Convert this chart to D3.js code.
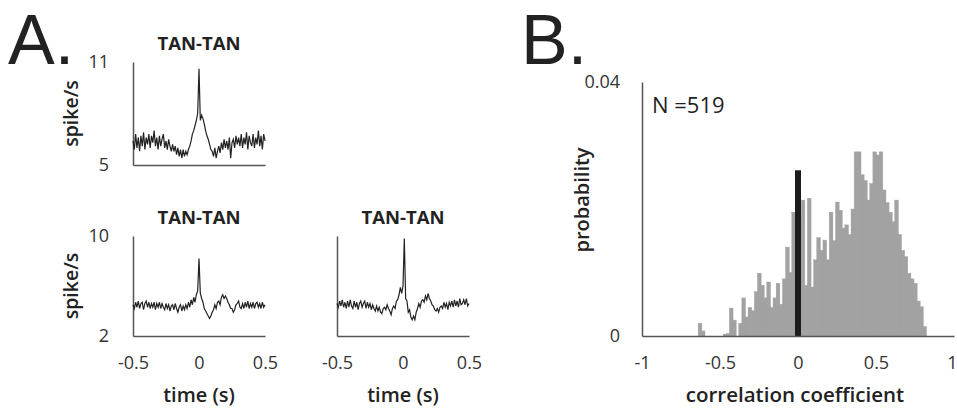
<!DOCTYPE html>
<html>
<head>
<meta charset="utf-8">
<script src="https://cdn.jsdelivr.net/npm/d3@7"></script>
<style>
  body { margin: 0; background: #fff; }
  svg { display: block; font-family: 'Open Sans', 'Noto Sans', sans-serif; }
  .axis path { stroke: #555; stroke-width: 1.5; }
  .axis text { fill: #333; font-size: 18px; font-family: 'Open Sans', 'Noto Sans', sans-serif; }
</style>
</head>
<body>
<script>
const width = 957
const height = 408

// time bins of the cross-correlograms, -0.5 .. 0.5 s in 10 ms steps
const times = d3.range(101).map(function (i) { return Math.round((i - 50)) / 100 })

// top-left correlogram (spike/s)
const ccg1 = [
  6.4, 5.9, 6.8, 6.0, 6.6, 5.8, 6.7, 6.1, 6.9, 5.9,
  6.6, 6.2, 6.8, 6.0, 6.7, 6.3, 7.0, 6.1, 6.6, 5.9,
  6.7, 6.1, 6.5, 6.8, 6.0, 6.4, 5.9, 6.5, 6.1, 5.8,
  6.2, 5.8, 6.1, 5.6, 6.0, 5.5, 5.9, 5.4, 5.9, 5.5,
  5.8, 5.6, 5.9, 6.1, 6.4, 6.8, 7.0, 7.3, 7.6, 8.0,
  10.6,
  7.6, 7.9, 7.7, 7.4, 7.0, 6.7, 6.5, 6.2, 5.9, 5.8,
  5.5, 6.0, 5.4, 5.8, 6.1, 5.7, 6.3, 5.9, 6.5, 6.0,
  6.4, 5.9, 6.6, 5.4, 6.3, 6.5, 6.0, 6.7, 6.2, 6.6,
  6.1, 6.8, 6.0, 6.6, 6.2, 6.9, 5.9, 6.7, 6.3, 6.1,
  6.8, 6.0, 6.6, 6.2, 7.0, 6.1, 6.7, 5.9, 6.8, 6.4
]

// bottom-left correlogram
const ccg2 = [
  4.5, 4.2, 4.7, 4.3, 4.8, 4.2, 4.6, 4.7, 4.1, 4.6,
  4.8, 4.3, 4.7, 4.2, 4.6, 4.3, 4.7, 4.1, 4.6, 4.3,
  4.7, 4.2, 4.6, 4.3, 4.1, 4.6, 4.2, 4.5, 4.0, 4.4,
  4.5, 4.1, 4.6, 4.2, 3.9, 4.3, 4.5, 4.0, 4.4, 4.1,
  4.5, 4.2, 4.7, 4.3, 4.9, 4.5, 5.1, 4.7, 5.3, 5.6,
  8.2,
  5.4, 5.0, 4.7, 4.2, 4.0, 3.8, 3.6, 3.4, 3.6, 3.9,
  4.1, 4.5, 4.2, 4.7, 4.8, 4.5, 5.1, 5.3, 5.0, 5.2,
  5.0, 4.7, 4.5, 4.2, 4.2, 3.9, 4.1, 4.5, 4.6, 4.8,
  4.3, 4.2, 4.6, 4.2, 4.7, 4.3, 4.8, 4.2, 4.6, 4.3,
  4.7, 4.2, 4.6, 4.7, 4.3, 4.6, 4.2, 4.7, 4.3, 4.5
]

// bottom-right correlogram
const ccg3 = [
  4.6, 4.3, 4.8, 4.4, 4.9, 4.3, 4.7, 4.2, 4.8, 4.3,
  4.9, 4.4, 4.2, 4.8, 4.3, 4.7, 4.1, 4.6, 4.8, 4.3,
  4.6, 4.8, 4.2, 4.7, 4.3, 4.6, 4.1, 4.5, 4.2, 4.0,
  4.4, 4.0, 4.3, 3.9, 3.8, 4.2, 4.3, 4.1, 4.5, 4.2,
  4.0, 3.7, 4.2, 4.4, 4.2, 4.8, 4.9, 5.3, 5.9, 5.4,
  6.0, 9.8,
  5.0, 4.8, 3.9, 4.1, 3.5, 3.3, 3.6, 3.3, 3.9,
  4.2, 4.6, 4.3, 4.8, 4.9, 4.7, 5.2, 4.9, 5.4, 5.0,
  4.8, 4.5, 4.4, 4.1, 4.0, 4.2, 3.9, 4.3, 4.4, 4.2,
  4.7, 4.3, 4.6, 4.1, 4.7, 4.4, 4.8, 4.3, 4.9, 4.4,
  4.8, 4.3, 5.0, 4.5, 4.6, 4.9, 4.5, 5.0, 4.4, 4.6
]

// histogram of correlation coefficients, bins of 0.02 from -1 to 1
const binEdges = d3.range(100).map(function (i) { return Math.round(-100 + 2 * i) / 100 })
const probs = [
  0, 0, 0, 0, 0, 0, 0, 0, 0, 0,
  0, 0, 0, 0, 0, 0, 0, 0, 0.0020, 0.0008,
  0, 0, 0, 0, 0, 0, 0.0003, 0.0004, 0.0044, 0.0025,
  0, 0.0020, 0.0060, 0.0030, 0.0045, 0.0040, 0.0070, 0.0099, 0.0080, 0.0060,
  0.0085, 0.0045, 0.0060, 0.0083, 0.0050, 0.0090, 0.0140, 0.0100, 0.0195, 0.0195,
  0.0180, 0.0214, 0.0080, 0.0217, 0.0077, 0.0120, 0.0155, 0.0135, 0.0151, 0.0120,
  0.0195, 0.0150, 0.0211, 0.0198, 0.0170, 0.0175, 0.0160, 0.0200, 0.0290, 0.0290,
  0.0254, 0.0245, 0.0214, 0.0240, 0.0290, 0.0285, 0.0290, 0.0230, 0.0210, 0.0195,
  0.0180, 0.0214, 0.0160, 0.0135, 0.0125, 0.0099, 0.0090, 0.0083, 0.0055, 0.0046,
  0.0015, 0, 0, 0, 0, 0, 0, 0, 0, 0
]
const binWidth = 0.02
const zeroMarker = 0.0261
const nCells = 519

// plain hyphen for negatives, as in the figure
function fmt (d) {
  if (d === 0) return '0'
  return (d < 0 ? '-' : '') + String(Math.abs(d))
}

const svg = d3.select('body').append('svg')
  .attr('width', width)
  .attr('height', height)

// panel letters
svg.append('text').attr('x', 8).attr('y', 64)
  .style('font-family', "'Liberation Sans', Arial, sans-serif")
  .style('font-size', '70px').attr('fill', '#222').text('A.')
svg.append('text').attr('x', 521).attr('y', 64)
  .style('font-family', "'Liberation Sans', Arial, sans-serif")
  .style('font-size', '70px').attr('fill', '#222').text('B.')

function ccgPanel (values, xr, yr, ydom, opts) {
  const x = d3.scaleLinear().domain([-0.5, 0.5]).range(xr)
  const y = d3.scaleLinear().domain(ydom).range(yr)
  const g = svg.append('g')

  g.append('g').attr('class', 'axis')
    .attr('transform', 'translate(' + xr[0] + ',0)')
    .call(d3.axisLeft(y).tickValues(opts.yLabels ? ydom : []).tickSize(0).tickPadding(24).tickFormat(fmt))
  g.append('g').attr('class', 'axis')
    .attr('transform', 'translate(0,' + yr[0] + ')')
    .call(d3.axisBottom(x).tickValues(opts.xLabels ? [-0.5, 0, 0.5] : []).tickSize(0).tickPadding(20)
      .tickFormat(fmt))

  const line = d3.line()
    .x(function (d, i) { return x(times[i]) })
    .y(function (d) { return y(d) })
  g.append('path').datum(values)
    .attr('d', line)
    .attr('fill', 'none')
    .attr('stroke', '#222')
    .attr('stroke-width', 1.2)

  g.append('text')
    .attr('x', (xr[0] + xr[1]) / 2).attr('y', yr[1] - 12)
    .attr('text-anchor', 'middle')
    .style('font-size', '18.5px').style('font-weight', 'bold').attr('fill', '#222')
    .text('TAN-TAN')

  if (opts.yTitle) {
    g.append('text')
      .attr('transform', 'translate(' + (xr[0] - 55) + ',' + ((yr[0] + yr[1]) / 2) + ') rotate(-90)')
      .attr('text-anchor', 'middle')
      .style('font-size', '19.5px').style('font-weight', '600').attr('fill', '#222')
      .text('spike/s')
  }
  if (opts.xTitle) {
    g.append('text')
      .attr('x', x(0)).attr('y', 402)
      .attr('text-anchor', 'middle')
      .style('font-size', '20px').style('font-weight', '600').attr('fill', '#222')
      .text('time (s)')
  }
}

ccgPanel(ccg1, [133, 265], [165, 62], [5, 11], { yLabels: true, yTitle: true })
ccgPanel(ccg2, [133, 265], [336, 236], [2, 10], { yLabels: true, yTitle: true, xLabels: true, xTitle: true })
ccgPanel(ccg3, [337, 469], [336, 236], [2, 10], { xLabels: true, xTitle: true })

// panel B: histogram
const hx = d3.scaleLinear().domain([-1, 1]).range([642, 954])
const hy = d3.scaleLinear().domain([0, 0.04]).range([336, 82])
const hist = svg.append('g')

hist.selectAll('rect.bin')
  .data(probs)
  .enter().append('rect')
  .attr('class', 'bin')
  .attr('x', function (d, i) { return hx(binEdges[i]) })
  .attr('width', hx(binWidth) - hx(0) + 0.6)
  .attr('y', function (d) { return hy(d) })
  .attr('height', function (d) { return hy(0) - hy(d) })
  .attr('fill', '#a2a2a2')
  .attr('stroke', '#a2a2a2')
  .attr('stroke-width', 0.4)

hist.append('rect')
  .attr('x', hx(0) - 3).attr('width', 6)
  .attr('y', hy(zeroMarker)).attr('height', hy(0) - hy(zeroMarker))
  .attr('fill', '#1c1c1c')

hist.append('g').attr('class', 'axis')
  .attr('transform', 'translate(' + hx(-1) + ',0)')
  .call(d3.axisLeft(hy).tickValues([0, 0.04]).tickSize(0).tickPadding(22).tickFormat(fmt))
const hxAxis = hist.append('g').attr('class', 'axis')
  .attr('transform', 'translate(0,' + hy(0) + ')')
  .call(d3.axisBottom(hx).tickValues([-1, -0.5, 0, 0.5, 1]).tickSize(0).tickPadding(20).tickFormat(fmt))
hxAxis.selectAll('.tick text').filter(function (d) { return d === 1 }).attr('dx', '-2px')

hist.append('text')
  .attr('x', hx(-1) + 10).attr('y', 113)
  .style('font-size', '22px').attr('fill', '#222')
  .text('N =' + nCells)

hist.append('text')
  .attr('x', 795).attr('y', 402)
  .attr('text-anchor', 'middle')
  .style('font-size', '20.5px').style('font-weight', '600').attr('fill', '#222')
  .text('correlation coefficient')

hist.append('text')
  .attr('transform', 'translate(589,200) rotate(-90)')
  .attr('text-anchor', 'middle')
  .style('font-size', '20px').style('font-weight', '600').attr('fill', '#222')
  .text('probability')
</script>
</body>
</html>
